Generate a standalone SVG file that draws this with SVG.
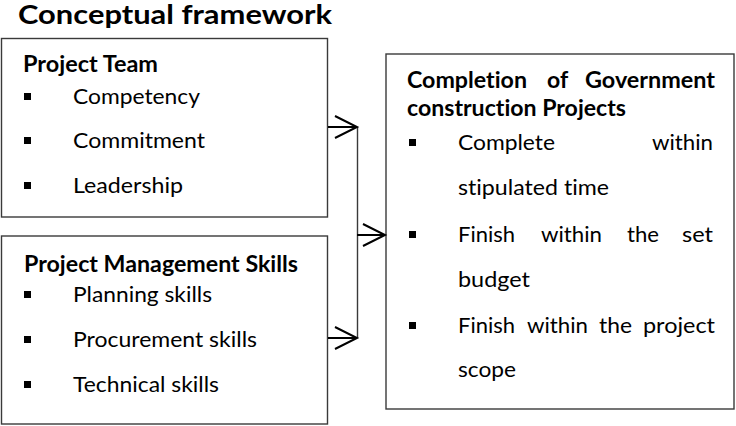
<svg xmlns="http://www.w3.org/2000/svg" width="736" height="426" viewBox="0 0 736 426">
<defs>
<style>
.box{fill:#fff;stroke:#3a3a3a;stroke-width:1.4}
.t{font-family:Lato,"Open Sans","Liberation Sans",sans-serif;fill:#000;font-variant-ligatures:none;font-feature-settings:"liga" 0}
.title{font-size:27px;font-weight:bold}
.h{font-size:23px;font-weight:bold}
.b{font-size:22px}
.bul{fill:#000}
.arr{stroke:#000;stroke-width:2;fill:none}
.vl{stroke:#3a3a3a;stroke-width:1.4;fill:none}
</style>
<marker id="ah" markerUnits="userSpaceOnUse" markerWidth="26" markerHeight="26" viewBox="0 0 26 26" refX="23" refY="12" orient="auto">
<path d="M1,1 L23,12 L1,23" fill="none" stroke="#000" stroke-width="2"/>
</marker>
</defs>
<rect width="736" height="426" fill="#fff"/>
<text class="t title" x="18" y="24" textLength="314" lengthAdjust="spacingAndGlyphs">Conceptual framework</text>

<g id="node-team">
<rect class="box" x="1.5" y="38.5" width="326" height="178.5"/>
<text class="t h" x="23" y="72" textLength="135" lengthAdjust="spacingAndGlyphs">Project Team</text>
<rect class="bul" x="24" y="93" width="7" height="7"/>
<text class="t b" x="73" y="104" textLength="127" lengthAdjust="spacingAndGlyphs">Competency</text>
<rect class="bul" x="24" y="137" width="7" height="7"/>
<text class="t b" x="73" y="148" textLength="132" lengthAdjust="spacingAndGlyphs">Commitment</text>
<rect class="bul" x="24" y="182" width="7" height="7"/>
<text class="t b" x="73" y="193" textLength="110" lengthAdjust="spacingAndGlyphs">Leadership</text>
</g>

<g id="node-skills">
<rect class="box" x="1.5" y="236" width="326" height="188"/>
<text class="t h" x="24" y="272" textLength="274" lengthAdjust="spacingAndGlyphs">Project Management Skills</text>
<rect class="bul" x="24" y="291" width="7" height="7"/>
<text class="t b" x="73" y="302" textLength="139" lengthAdjust="spacingAndGlyphs">Planning skills</text>
<rect class="bul" x="24" y="336" width="7" height="7"/>
<text class="t b" x="73" y="347" textLength="184" lengthAdjust="spacingAndGlyphs">Procurement skills</text>
<rect class="bul" x="24" y="381" width="7" height="7"/>
<text class="t b" x="73" y="392" textLength="146" lengthAdjust="spacingAndGlyphs">Technical skills</text>
</g>

<g id="node-completion">
<rect class="box" x="386" y="54" width="348" height="355"/>
<text class="t h" y="88"><tspan x="407" textLength="120" lengthAdjust="spacingAndGlyphs">Completion</tspan><tspan x="547">of</tspan><tspan x="585" textLength="130" lengthAdjust="spacingAndGlyphs">Government</tspan></text>
<text class="t h" x="407" y="116" textLength="219" lengthAdjust="spacingAndGlyphs">construction Projects</text>
<rect class="bul" x="409" y="139" width="7" height="7"/>
<text class="t b" y="150"><tspan x="458" textLength="97" lengthAdjust="spacingAndGlyphs">Complete</tspan><tspan x="652" textLength="61" lengthAdjust="spacingAndGlyphs">within</tspan></text>
<text class="t b" x="458" y="195" textLength="151" lengthAdjust="spacingAndGlyphs">stipulated time</text>
<rect class="bul" x="409" y="231" width="7" height="7"/>
<text class="t b" y="242"><tspan x="458" textLength="57" lengthAdjust="spacingAndGlyphs">Finish</tspan><tspan x="541" textLength="61" lengthAdjust="spacingAndGlyphs">within</tspan><tspan x="627" textLength="32" lengthAdjust="spacingAndGlyphs">the</tspan><tspan x="682" textLength="31" lengthAdjust="spacingAndGlyphs">set</tspan></text>
<text class="t b" x="458" y="287" textLength="72" lengthAdjust="spacingAndGlyphs">budget</text>
<rect class="bul" x="409" y="322" width="7" height="7"/>
<text class="t b" y="333"><tspan x="458" textLength="57" lengthAdjust="spacingAndGlyphs">Finish</tspan><tspan x="527" textLength="61" lengthAdjust="spacingAndGlyphs">within</tspan><tspan x="599" textLength="33" lengthAdjust="spacingAndGlyphs">the</tspan><tspan x="643" textLength="72" lengthAdjust="spacingAndGlyphs">project</tspan></text>
<text class="t b" x="458" y="377" textLength="58" lengthAdjust="spacingAndGlyphs">scope</text>
</g>

<g id="connectors">
<path class="vl" d="M357.5,127 V338"/>
<path class="arr" d="M328,127 H357" marker-end="url(#ah)"/>
<path class="arr" d="M328,338 H357" marker-end="url(#ah)"/>
<path class="arr" d="M357,235 H385" marker-end="url(#ah)"/>
</g>
</svg>
